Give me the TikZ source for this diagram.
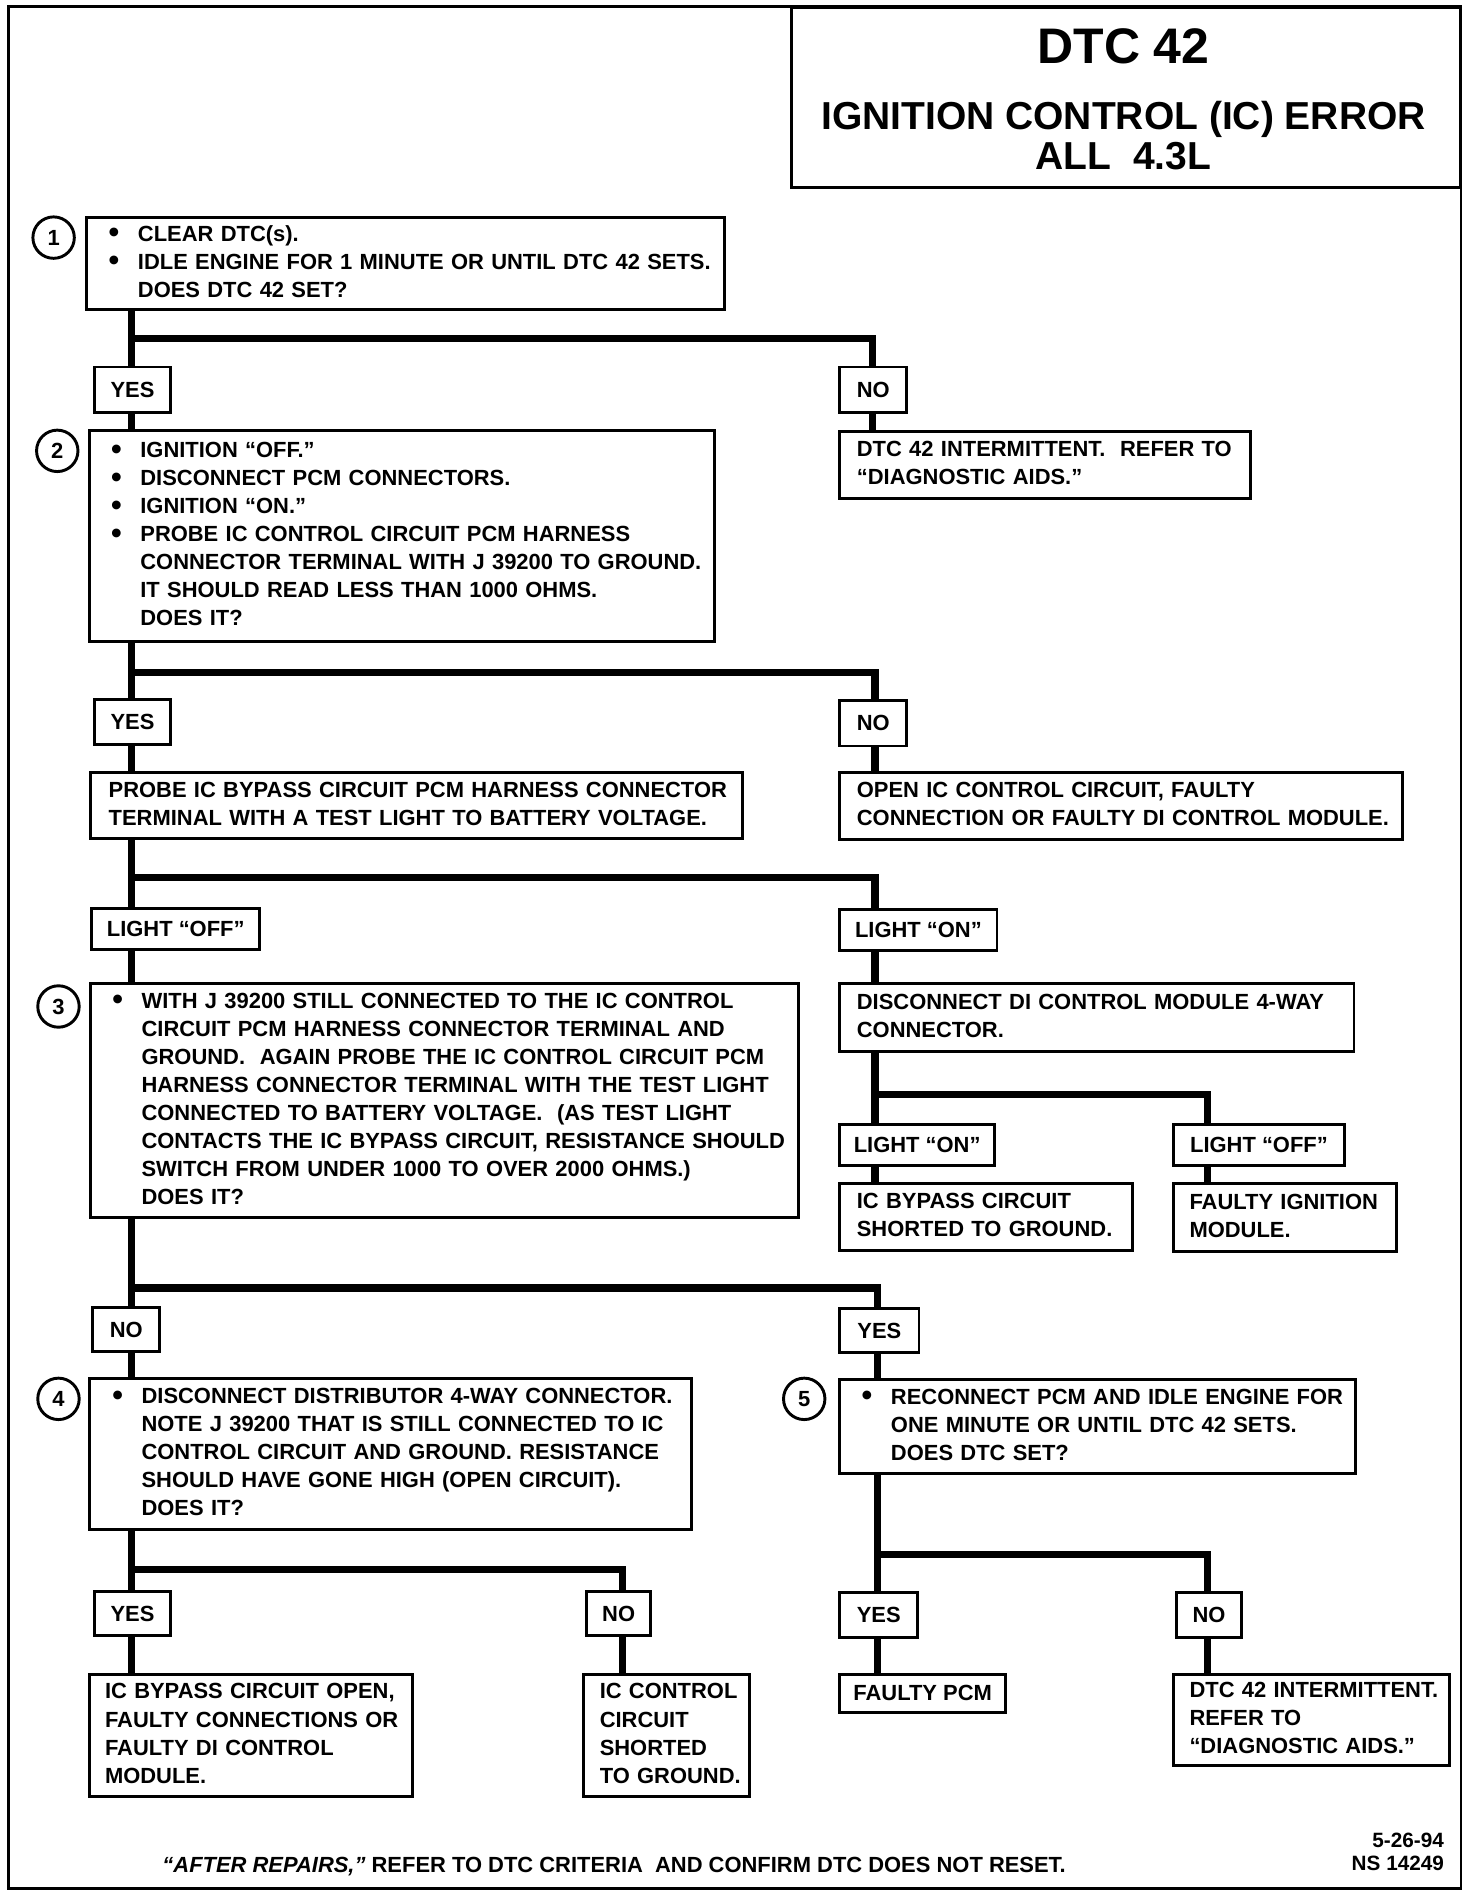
\documentclass[tikz,border=0pt]{standalone}
\usepackage{fontspec}
\setmainfont{Liberation Sans}
\usetikzlibrary{positioning}
\newcommand{\punto}{\makebox[12pt][l]{\raisebox{-0.7pt}{\fontsize{12.5}{11.5}\selectfont\textbullet}}}
\newcommand{\rientro}{\hspace*{12pt}}
\newcommand{\righe}[1]{\begin{tabular}{@{}l@{}}#1\end{tabular}}

\begin{document}
\begin{tikzpicture}[x=0.5pt, y=-0.5pt,
    every node/.style={font=\bfseries\fontsize{9}{11.5}\selectfont},
    msgbox/.style={draw, line width=1.2pt, anchor=north west, align=left, inner ysep=0pt},
    tagbox/.style={draw, line width=1.2pt, anchor=north west, inner sep=0pt},
    numcirc/.style={draw, circle, line width=1.2pt, minimum size=17pt, inner sep=0pt},
    link/.style={line width=3pt}]
    \useasboundingbox (0,0) rectangle (1208,1556);
    % Cornice e titolo
    \draw[line width=1.2pt] (7,5) rectangle (1199,1550);
    \node[tagbox, minimum width=274.5pt, minimum height=74pt] (titolo) at (648,5) {};
    \node[font=\bfseries\fontsize{20.5}{24}\selectfont] (dtc) at (922,38) {DTC 42};
    \node[font=\bfseries\fontsize{16}{18}\selectfont] (errore) at (922,98) {IGNITION CONTROL (IC) ERROR};
    \node[font=\bfseries\fontsize{16}{18}\selectfont] (motore) at (922,128) {ALL\ \ 4.3L};
    % Passo 1
    \node[numcirc] (n1) at (44,195) {1};
    \node[msgbox, inner xsep=9pt, text width=243.5pt, minimum height=38pt] (b1) at (70,177)
        {\righe{\punto CLEAR DTC(s).\\ \punto IDLE ENGINE FOR 1 MINUTE OR UNTIL DTC 42 SETS.\\ \rientro DOES DTC 42 SET?}};
    \coordinate (j1) at (108,278);
    \coordinate (k1) at (716,278);
    \node[tagbox, minimum width=31.5pt, minimum height=18.5pt] (yes1) at (76,300) {YES};
    \node[tagbox, minimum width=27.5pt, minimum height=18.5pt] (no1) at (688,300) {NO};
    \draw[link] (b1.south -| j1) -- (yes1.north -| j1);
    \draw[link] (j1) -- (k1) -- (no1.north -| k1);
    % Passo 2
    \node[numcirc] (n2) at (47,370) {2};
    \node[msgbox, inner xsep=9pt, text width=238.5pt, minimum height=86.5pt] (b2) at (72,352)
        {\righe{\punto IGNITION “OFF.”\\ \punto DISCONNECT PCM CONNECTORS.\\ \punto IGNITION “ON.”\\
        \punto PROBE IC CONTROL CIRCUIT PCM HARNESS\\ \rientro CONNECTOR TERMINAL WITH J 39200 TO GROUND.\\
        \rientro IT SHOULD READ LESS THAN 1000 OHMS.\\ \rientro DOES IT?}};
    \node[msgbox, inner xsep=7pt, text width=154.5pt, minimum height=27.5pt] (r1) at (688,353)
        {\righe{DTC 42 INTERMITTENT.\ \ REFER TO\\ “DIAGNOSTIC AIDS.”}};
    \draw[link] (yes1.south -| j1) -- (b2.north -| j1);
    \draw[link] (no1.south -| k1) -- (r1.north -| k1);
    \coordinate (j2) at (108,552);
    \coordinate (k2) at (718,552);
    \node[tagbox, minimum width=31.5pt, minimum height=18.5pt] (yes2) at (76,573) {YES};
    \node[tagbox, minimum width=27.5pt, minimum height=18.5pt] (no2) at (688,574) {NO};
    \draw[link] (b2.south -| j2) -- (yes2.north -| j2);
    \draw[link] (j2) -- (k2) -- (no2.north -| k2);
    % Prova del circuito di bypass
    \node[msgbox, inner xsep=7.5pt, text width=252.5pt, minimum height=27pt] (p1) at (73,633)
        {\righe{PROBE IC BYPASS CIRCUIT PCM HARNESS CONNECTOR\\ TERMINAL WITH A TEST LIGHT TO BATTERY VOLTAGE.}};
    \node[msgbox, inner xsep=7pt, text width=217pt, minimum height=27.5pt] (r2) at (688,633)
        {\righe{OPEN IC CONTROL CIRCUIT, FAULTY\\ CONNECTION OR FAULTY DI CONTROL MODULE.}};
    \draw[link] (yes2.south -| j2) -- (p1.north -| j2);
    \draw[link] (no2.south -| k2) -- (r2.north -| k2);
    \coordinate (j3) at (108,720);
    \coordinate (k3) at (718,720);
    \node[tagbox, minimum width=69pt, minimum height=17pt] (loff1) at (74,744) {LIGHT “OFF”};
    \node[tagbox, minimum width=64.5pt, minimum height=17pt] (lon1) at (688,745) {LIGHT “ON”};
    \draw[link] (p1.south -| j3) -- (loff1.north -| j3);
    \draw[link] (j3) -- (k3) -- (lon1.north -| k3);
    % Passo 3
    \node[numcirc] (n3) at (48,826) {3};
    \node[msgbox, inner xsep=9pt, text width=272.5pt, minimum height=96pt] (b3) at (73,806)
        {\righe{\punto WITH J 39200 STILL CONNECTED TO THE IC CONTROL\\
        \rientro CIRCUIT PCM HARNESS CONNECTOR TERMINAL AND\\
        \rientro GROUND.\ \ AGAIN PROBE THE IC CONTROL CIRCUIT PCM\\
        \rientro HARNESS CONNECTOR TERMINAL WITH THE TEST LIGHT\\
        \rientro CONNECTED TO BATTERY VOLTAGE.\ \ (AS TEST LIGHT\\
        \rientro CONTACTS THE IC BYPASS CIRCUIT, RESISTANCE SHOULD\\
        \rientro SWITCH FROM UNDER 1000 TO OVER 2000 OHMS.)\\
        \rientro DOES IT?}};
    \node[msgbox, inner xsep=7pt, text width=197pt, minimum height=28pt] (r3) at (688,806)
        {\righe{DISCONNECT DI CONTROL MODULE 4-WAY\\ CONNECTOR.}};
    \draw[link] (loff1.south -| j3) -- (b3.north -| j3);
    \draw[link] (lon1.south -| k3) -- (r3.north -| k3);
    % Modulo DI scollegato
    \coordinate (jd) at (718,898);
    \coordinate (kd) at (991,898);
    \node[tagbox, minimum width=63.5pt, minimum height=16.5pt] (lon2) at (688,922) {LIGHT “ON”};
    \node[tagbox, minimum width=70pt, minimum height=16.5pt] (loff2) at (962,922) {LIGHT “OFF”};
    \draw[link] (r3.south -| jd) -- (lon2.north -| jd);
    \draw[link] (jd) -- (kd) -- (loff2.north -| kd);
    \node[msgbox, inner xsep=7pt, text width=106pt, minimum height=27.5pt] (r4) at (688,970)
        {\righe{IC BYPASS CIRCUIT\\ SHORTED TO GROUND.}};
    \node[msgbox, inner xsep=6.5pt, text width=78.5pt, minimum height=28pt] (r5) at (962,970)
        {\righe{FAULTY IGNITION\\ MODULE.}};
    \draw[link] (lon2.south -| jd) -- (r4.north -| jd);
    \draw[link] (loff2.south -| kd) -- (r5.north -| kd);
    % Passi 4 e 5
    \coordinate (j4) at (108,1057);
    \coordinate (k4) at (720,1057);
    \node[tagbox, minimum width=27.5pt, minimum height=18pt] (no3) at (75,1072) {NO};
    \node[tagbox, minimum width=32.5pt, minimum height=18pt] (yes3) at (688,1073) {YES};
    \draw[link] (b3.south -| j4) -- (no3.north -| j4);
    \draw[link] (j4) -- (k4) -- (yes3.north -| k4);
    \node[numcirc] (n4) at (48,1148) {4};
    \node[msgbox, inner xsep=9.5pt, text width=228pt, minimum height=62pt] (b4) at (72,1130)
        {\righe{\punto DISCONNECT DISTRIBUTOR 4-WAY CONNECTOR.\\
        \rientro NOTE J 39200 THAT IS STILL CONNECTED TO IC\\
        \rientro CONTROL CIRCUIT AND GROUND. RESISTANCE\\
        \rientro SHOULD HAVE GONE HIGH (OPEN CIRCUIT).\\
        \rientro DOES IT?}};
    \node[numcirc] (n5) at (660,1148) {5};
    \node[msgbox, inner xsep=9pt, text width=193.5pt, minimum height=38.5pt] (b5) at (688,1131)
        {\righe{\punto RECONNECT PCM AND IDLE ENGINE FOR\\
        \rientro ONE MINUTE OR UNTIL DTC 42 SETS.\\
        \rientro DOES DTC SET?}};
    \draw[link] (no3.south -| j4) -- (b4.north -| j4);
    \draw[link] (yes3.south -| k4) -- (b5.north -| k4);
    % Esiti del passo 4
    \coordinate (j5) at (108,1288);
    \coordinate (k5) at (511,1288);
    \node[tagbox, minimum width=31.5pt, minimum height=18pt] (yes4) at (76,1305) {YES};
    \node[tagbox, minimum width=26.5pt, minimum height=18pt] (no4) at (480,1305) {NO};
    \draw[link] (b4.south -| j5) -- (yes4.north -| j5);
    \draw[link] (j5) -- (k5) -- (no4.north -| k5);
    \node[msgbox, inner xsep=6.5pt, text width=119.5pt, minimum height=50pt] (b6) at (72,1373)
        {\righe{IC BYPASS CIRCUIT OPEN,\\ FAULTY CONNECTIONS OR\\ FAULTY DI CONTROL\\ MODULE.}};
    \node[msgbox, inner xsep=6.5pt, text width=55pt, minimum height=50pt] (b7) at (478,1373)
        {\righe{IC CONTROL\\ CIRCUIT\\ SHORTED\\ TO GROUND.}};
    \draw[link] (yes4.south -| j5) -- (b6.north -| j5);
    \draw[link] (no4.south -| k5) -- (b7.north -| k5);
    % Esiti del passo 5
    \coordinate (j6) at (720,1276);
    \coordinate (k6) at (991,1276);
    \node[tagbox, minimum width=32pt, minimum height=18.5pt] (yes5) at (688,1306) {YES};
    \node[tagbox, minimum width=27pt, minimum height=18.5pt] (no5) at (964,1306) {NO};
    \draw[link] (b5.south -| j6) -- (yes5.north -| j6);
    \draw[link] (j6) -- (k6) -- (no5.north -| k6);
    \node[tagbox, minimum width=68pt, minimum height=15.5pt] (pcm) at (688,1373) {FAULTY PCM};
    \node[msgbox, inner xsep=6.5pt, text width=100pt, minimum height=37.5pt] (b9) at (962,1373)
        {\righe{DTC 42 INTERMITTENT.\\ REFER TO\\ “DIAGNOSTIC AIDS.”}};
    \draw[link] (yes5.south -| j6) -- (pcm.north -| j6);
    \draw[link] (no5.south -| k6) -- (b9.north -| k6);
    % Nota finale
    \node (nota) at (504,1532) {\textit{“AFTER REPAIRS,”} REFER TO DTC CRITERIA\ \ AND CONFIRM DTC DOES NOT RESET.};
    \node[anchor=east, align=right, font=\bfseries\fontsize{8.5}{9.5}\selectfont] (data) at (1192,1520) {5-26-94\\ NS 14249};
\end{tikzpicture}
\end{document}
